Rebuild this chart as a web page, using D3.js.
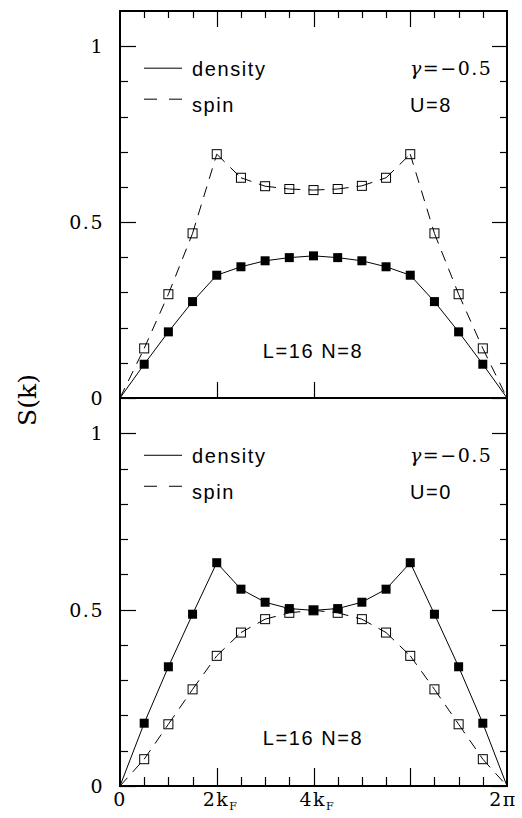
<!DOCTYPE html>
<html lang="en">
<head>
  <meta charset="UTF-8">
  <title>S(k) density and spin</title>
  <script src="https://d3js.org/d3.v7.min.js"></script>
  <style>
    body { margin: 0; background: #fff; }
    .num { font-family: "DejaVu Serif", serif; font-size: 19px; letter-spacing: 1.5px; }
    .txt { font-family: "Liberation Sans", Arial, sans-serif; font-size: 20px; letter-spacing: 1.6px; }
  </style>
</head>
<body>
  <svg width="522" height="818"></svg>

  <script>
    // k = 2*pi*n/16, n = 0..16 (end points are zero, no markers)
    const sites = d3.range(0, 17);
    const L = 16;

    // upper panel, U=8
    const densityU8 = [0, 0.096, 0.188, 0.274, 0.349, 0.373, 0.390, 0.399, 0.404, 0.399, 0.390, 0.373, 0.349, 0.274, 0.188, 0.096, 0];
    const spinU8    = [0, 0.141, 0.295, 0.468, 0.693, 0.626, 0.602, 0.594, 0.591, 0.594, 0.603, 0.626, 0.693, 0.468, 0.295, 0.141, 0];

    // lower panel, U=0
    const densityU0 = [0, 0.178, 0.338, 0.487, 0.633, 0.558, 0.521, 0.503, 0.498, 0.503, 0.521, 0.558, 0.633, 0.487, 0.338, 0.178, 0];
    const spinU0    = [0, 0.076, 0.175, 0.274, 0.369, 0.435, 0.473, 0.491, 0.498, 0.491, 0.473, 0.435, 0.369, 0.274, 0.175, 0.076, 0];

    const majorY = [0, 0.5, 1];
    const minorY = [0.1, 0.2, 0.3, 0.4, 0.6, 0.7, 0.8, 0.9];
    const majorX = [Math.PI / 2, Math.PI, 3 * Math.PI / 2];
    const minorX = d3.range(1, 16).map(n => 2 * Math.PI * n / L).filter(v => !majorX.some(m => Math.abs(m - v) < 1e-9));

    const svg = d3.select("svg");
    const xLeft = 120, xRight = 507, yTop = 11, yMid = 398, yBottom = 786;

    const x = d3.scaleLinear().domain([0, 2 * Math.PI]).range([xLeft, xRight]);
    const kOf = n => 2 * Math.PI * n / L;

    const panels = [
      {y: d3.scaleLinear().domain([0, 1.1]).range([yMid, yTop]), dens: densityU8, spin: spinU8, U: "U=8"},
      {y: d3.scaleLinear().domain([0, 1.1]).range([yBottom, yMid]), dens: densityU0, spin: spinU0, U: "U=0"}
    ];

    // frame
    svg.append("rect").attr("x", xLeft).attr("y", yTop).attr("width", xRight - xLeft).attr("height", yBottom - yTop)
      .attr("fill", "none").attr("stroke", "#000").attr("stroke-width", 2);
    svg.append("line").attr("x1", xLeft).attr("x2", xRight).attr("y1", yMid).attr("y2", yMid)
      .attr("stroke", "#000").attr("stroke-width", 2);

    const tickLayer = svg.append("g");
    function yTicks(scale, values, x0, len) {
      tickLayer.append("g").selectAll("line").data(values).join("line")
        .attr("x1", x0).attr("x2", x0 + len)
        .attr("y1", d => Math.round(scale(d)) + 0.5).attr("y2", d => Math.round(scale(d)) + 0.5)
        .attr("stroke", "#000").attr("stroke-width", 1.2);
    }
    function xTicks(values, y0, len) {
      tickLayer.append("g").selectAll("line").data(values).join("line")
        .attr("x1", d => Math.round(x(d)) + 0.5).attr("x2", d => Math.round(x(d)) + 0.5)
        .attr("y1", y0).attr("y2", y0 + len)
        .attr("stroke", "#000").attr("stroke-width", 1.2);
    }

    panels.forEach(p => {
      const y = p.y;

      yTicks(y, majorY, xLeft, 16);
      yTicks(y, minorY, xLeft, 8);
      yTicks(y, majorY, xRight, -15);
      yTicks(y, minorY, xRight, -7);

      // y labels
      svg.append("g").selectAll("text").data(majorY).join("text")
        .attr("class", "num")
        .attr("x", 104).attr("y", d => y(d) + 7)
        .attr("text-anchor", "end")
        .text(d => d);

      // data lines, each segment dashed from its start
      const segs = d3.pairs(sites);
      svg.append("g").selectAll("line").data(segs).join("line")
        .attr("x1", d => x(kOf(d[0]))).attr("y1", d => y(p.dens[d[0]]))
        .attr("x2", d => x(kOf(d[1]))).attr("y2", d => y(p.dens[d[1]]))
        .attr("stroke", "#000").attr("stroke-width", 1);
      svg.append("g").selectAll("line").data(segs).join("line")
        .attr("x1", d => x(kOf(d[0]))).attr("y1", d => y(p.spin[d[0]]))
        .attr("x2", d => x(kOf(d[1]))).attr("y2", d => y(p.spin[d[1]]))
        .attr("stroke", "#000").attr("stroke-width", 1).attr("stroke-dasharray", "11,8");

      const inner = sites.slice(1, 16);
      svg.append("g").selectAll("rect").data(inner).join("rect")
        .attr("x", n => x(kOf(n)) - 4.5).attr("y", n => y(p.spin[n]) - 4.5)
        .attr("width", 9).attr("height", 9)
        .attr("fill", "none").attr("stroke", "#000").attr("stroke-width", 1);
      svg.append("g").selectAll("rect").data(inner).join("rect")
        .attr("x", n => x(kOf(n)) - 4.5).attr("y", n => y(p.dens[n]) - 4.5)
        .attr("width", 9).attr("height", 9).attr("fill", "#000");

      // legend
      const y1 = y(1);
      svg.append("line").attr("x1", 144).attr("x2", 182).attr("y1", y1 + 22).attr("y2", y1 + 22)
        .attr("stroke", "#000").attr("stroke-width", 1);
      svg.append("line").attr("x1", 144).attr("x2", 182).attr("y1", y1 + 53).attr("y2", y1 + 53)
        .attr("stroke", "#000").attr("stroke-width", 1).attr("stroke-dasharray", "13,12");
      svg.append("text").attr("class", "txt").attr("x", 192).attr("y", y1 + 30).text("density");
      svg.append("text").attr("class", "txt").attr("x", 192).attr("y", y1 + 66).text("spin");

      const g = svg.append("text").attr("class", "num").attr("x", 410).attr("y", y1 + 29)
        .attr("letter-spacing", "2px");
      g.append("tspan").attr("font-style", "italic").text("γ");
      g.append("tspan").text("=−0.5");
      svg.append("text").attr("class", "txt").attr("x", 410).attr("y", y1 + 66).text(p.U);

      svg.append("text").attr("class", "txt").attr("x", 313).attr("y", y(0.115))
        .attr("text-anchor", "middle").text("L=16 N=8");
    });

    // top of upper panel
    xTicks(majorX, yTop, 16);
    xTicks(minorX, yTop, 7);
    // bottom of upper panel
    xTicks([Math.PI / 2, Math.PI], yMid, -16);
    // bottom of lower panel
    xTicks(majorX, yBottom, -18);
    xTicks(minorX, yBottom, -9);

    // x labels
    const xLabels = [
      {v: 0, main: "0", sub: ""},
      {v: Math.PI / 2, main: "2k", sub: "F"},
      {v: Math.PI, main: "4k", sub: "F"},
      {v: 2 * Math.PI, main: "2π", sub: ""}
    ];
    const xl = svg.append("g").selectAll("text").data(xLabels).join("text")
      .attr("class", "num")
      .attr("x", d => x(d.v) + (d.sub ? 3 : 0) - (d.v > 6 ? 4 : 0))
      .attr("y", 806)
      .attr("text-anchor", "middle");
    xl.append("tspan").text(d => d.main);
    xl.filter(d => d.sub).append("tspan").attr("font-size", 11).attr("dy", 4).attr("letter-spacing", 0).text(d => d.sub);

    // y title
    svg.append("text")
      .attr("transform", `translate(36,${yMid + 2}) rotate(-90)`)
      .attr("font-family", "DejaVu Serif, serif").attr("font-size", 25)
      .attr("text-anchor", "middle").text("S(k)");
  </script>
</body>
</html>
